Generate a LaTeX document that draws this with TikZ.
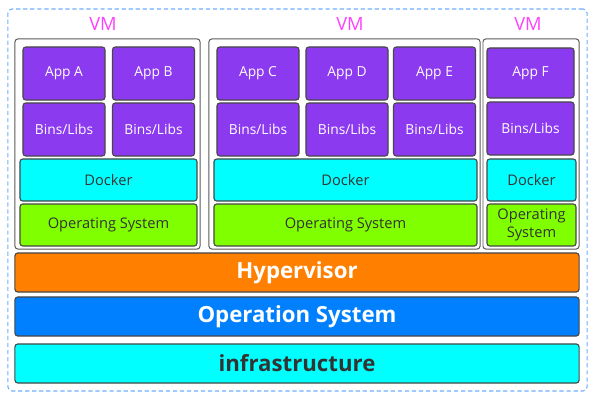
\documentclass[tikz,border=0pt]{standalone}
\usepackage{fontspec}
\setmainfont{Open Sans}
\definecolor{appviolet}{RGB}{140,58,240}
\definecolor{dockcyan}{RGB}{0,255,255}
\definecolor{osgreen}{RGB}{128,255,0}
\definecolor{hvorange}{RGB}{255,128,0}
\definecolor{hostblue}{RGB}{0,128,255}
\definecolor{vmpink}{RGB}{255,64,255}
\definecolor{dashblue}{RGB}{110,175,255}
\begin{document}
\begin{tikzpicture}[x=0.025cm, y=-0.025cm,
  every node/.style={font=\fontsize{9.8}{11}\selectfont, inner sep=0pt},
  blk/.style={draw=black!72, line width=0.8pt, rounded corners=2pt},
  app/.style={blk, fill=appviolet, text=white, minimum width=20.5mm, minimum height=13.25mm},
  docker/.style={blk, fill=dockcyan, text=black!80, minimum height=10.5mm, font=\fontsize{10.4}{12}\selectfont},
  guest/.style={blk, fill=osgreen, text=black!80, minimum height=10.5mm, font=\fontsize{10.4}{12.5}\selectfont, align=center},
  bar/.style={blk, minimum width=141mm, minimum height=9.75mm, font=\fontsize{15.8}{18}\selectfont\bfseries},
  vmbox/.style={draw=black!65, line width=0.7pt, fill=white, rounded corners=2pt, minimum height=52.5mm},
  vmlabel/.style={text=vmpink, font=\fontsize{13}{14}\selectfont}]
  \useasboundingbox (0,0) rectangle (599,400);

  % host frame
  \node[draw=dashblue, line width=0.8pt, dash pattern=on 3pt off 2pt, rounded corners=3pt,
        minimum width=144.75mm, minimum height=95.5mm] (host) at (297.5,200) {};

  % first VM
  \node[vmbox, minimum width=46.25mm] (vmA) at (107.5,144) {};
  \node[vmlabel] (vmlabA) at (103,24) {VM};
  \node[app] (appA) at (64,73.5) {App A};
  \node[app] (appB) at (153.5,73.5) {App B};
  \node[app] (libA) at (64,129.5) {Bins/Libs};
  \node[app] (libB) at (153.5,129.5) {Bins/Libs};
  \node[docker, minimum width=44.25mm] (dockA) at (108.5,180) {Docker};
  \node[guest, minimum width=44.25mm] (osA) at (108.5,225) {Operating System};

  % second VM
  \node[vmbox, minimum width=67.75mm] (vmB) at (344.5,144) {};
  \node[vmlabel] (vmlabB) at (350,24) {VM};
  \node[app] (appC) at (258,73.5) {App C};
  \node[app] (appD) at (347,73.5) {App D};
  \node[app] (appE) at (434.5,73.5) {App E};
  \node[app] (libC) at (258,129.5) {Bins/Libs};
  \node[app] (libD) at (347,129.5) {Bins/Libs};
  \node[app] (libE) at (434.5,129.5) {Bins/Libs};
  \node[docker, minimum width=65.75mm] (dockB) at (345.5,180) {Docker};
  \node[guest, minimum width=65.75mm] (osB) at (345.5,225) {Operating System};

  % third VM
  \node[vmbox, minimum width=24mm] (vmC) at (531,144) {};
  \node[vmlabel] (vmlabC) at (528,24) {VM};
  \node[app, minimum width=21.75mm, minimum height=12.5mm] (appF) at (530.5,73) {App F};
  \node[app, minimum width=21.75mm] (libF) at (530.5,128.5) {Bins/Libs};
  \node[docker, minimum width=22.25mm] (dockC) at (531.5,180) {Docker};
  \node[guest, minimum width=22.25mm] (osC) at (531.5,225) {Operating\\System};

  % shared layers
  \node[bar, fill=hvorange, text=white] (hyper) at (297,272.5) {Hypervisor};
  \node[bar, fill=hostblue, text=white] (hostos) at (297,316.5) {Operation System};
  \node[bar, fill=dockcyan, text=black!80] (infra) at (297,363.5) {infrastructure};
\end{tikzpicture}
\end{document}
